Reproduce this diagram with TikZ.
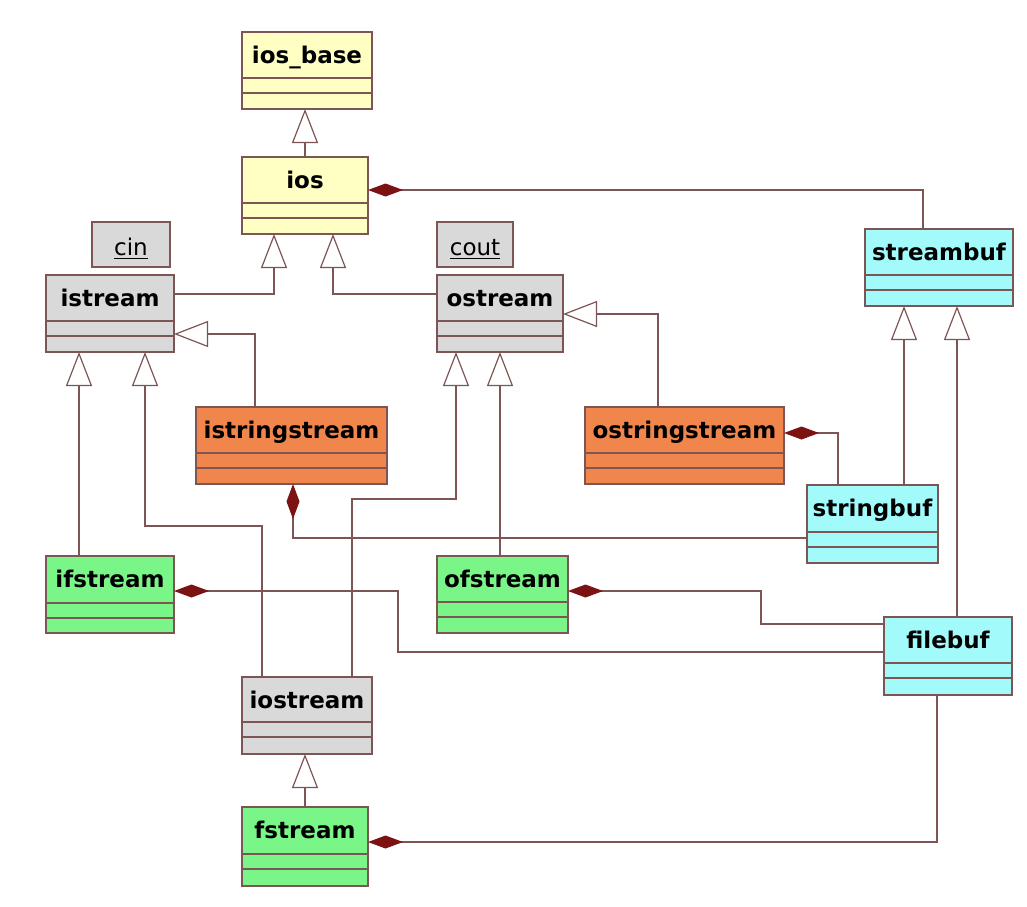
\documentclass[tikz,border=0pt]{standalone}
\usepackage{fontspec}
\setmainfont{DejaVu Sans}
\usetikzlibrary{arrows.meta,fit,calc}
\definecolor{yellowc}{RGB}{255,255,196}
\definecolor{greyc}{RGB}{217,217,217}
\definecolor{orangec}{RGB}{240,134,76}
\definecolor{greenc}{RGB}{122,245,136}
\definecolor{cyanc}{RGB}{162,250,250}
\definecolor{edgec}{RGB}{125,85,85}
\definecolor{diamc}{RGB}{125,18,18}
\tikzset{
  classbox/.style={draw=edgec, line width=0.6pt, inner sep=0pt, outer sep=0pt},
  divider/.style={draw=edgec, line width=0.6pt},
  titletext/.style={font=\fontsize{11.5}{14}\selectfont\bfseries, inner sep=0pt},
  objtext/.style={font=\fontsize{11.5}{14}\selectfont, inner sep=0pt},
  gen/.style={draw=edgec, line width=0.6pt, -{Triangle[length=17pt,width=13pt,fill=white,line width=0.6pt]}},
  comp/.style={draw=edgec, line width=0.6pt, -{Diamond[length=17.5pt,width=6.5pt,fill=diamc,color=diamc]}},
}
\newcommand{\umlclass}[8]{%
  \node[classbox, fill=#7, fit={(#2,#3) (#4,#5)}] (#1) {};
  \draw[divider] (#2,#6) -- (#4,#6);
  \draw[divider] (#2,#6+15) -- (#4,#6+15);
  \node[titletext, anchor=base] (#1-title) at ($(#1.north)+(0,31.5)$) {#8};
}
\begin{document}
\begin{tikzpicture}[x=0.5pt,y=-0.5pt]
\useasboundingbox[fill=white] (0,0) rectangle (1027,906);
% classes
\umlclass{iosbase}{242}{32}{372}{109}{78}{yellowc}{ios\_base}
\umlclass{ios}{242}{157}{368}{234}{203}{yellowc}{ios}
\umlclass{istream}{46}{275}{174}{352}{321}{greyc}{istream}
\umlclass{ostream}{437}{275}{563}{352}{321}{greyc}{ostream}
\umlclass{streambuf}{865}{229}{1013}{306}{275}{cyanc}{streambuf}
\umlclass{istringstream}{196}{407}{387}{484}{453}{orangec}{istringstream}
\umlclass{ostringstream}{585}{407}{784}{484}{453}{orangec}{ostringstream}
\umlclass{stringbuf}{807}{485}{938}{563}{532}{cyanc}{stringbuf}
\umlclass{ifstream}{46}{556}{174}{633}{603}{greenc}{ifstream}
\umlclass{ofstream}{437}{556}{568}{633}{602}{greenc}{ofstream}
\umlclass{filebuf}{884}{617}{1012}{695}{663}{cyanc}{filebuf}
\umlclass{iostream}{242}{677}{372}{754}{722}{greyc}{iostream}
\umlclass{fstream}{242}{807}{368}{886}{854}{greenc}{fstream}
% objects
\node[classbox, fill=greyc, fit={(92,222) (170,267)}] (cin) {};
\node[objtext, anchor=base] (cin-label) at ($(cin.north)+(0,33)$) {\underline{cin}};
\node[classbox, fill=greyc, fit={(437,222) (513,267)}] (cout) {};
\node[objtext, anchor=base] (cout-label) at ($(cout.north)+(0,33)$) {\underline{cout}};
% generalizations
\draw[gen] (ios.north -| 305,0) -- (iosbase.south -| 305,0);
\draw[gen] (istream.east |- 0,294) -| (ios.south -| 274,0);
\draw[gen] (ostream.west |- 0,294) -| (ios.south -| 333,0);
\draw[gen] (istringstream.north -| 255,0) |- (istream.east |- 0,334);
\draw[gen] (ostringstream.north -| 658,0) |- (ostream.east |- 0,314);
\draw[gen] (ifstream.north -| 79,0) -- (istream.south -| 79,0);
\draw[gen] (ofstream.north -| 500,0) -- (ostream.south -| 500,0);
\draw[gen] (iostream.north -| 262,0) -- (262,526) -- (145,526) -- (istream.south -| 145,0);
\draw[gen] (iostream.north -| 352,0) -- (352,499) -- (456,499) -- (ostream.south -| 456,0);
\draw[gen] (fstream.north -| 305,0) -- (iostream.south -| 305,0);
\draw[gen] (stringbuf.north -| 904,0) -- (streambuf.south -| 904,0);
\draw[gen] (filebuf.north -| 957,0) -- (streambuf.south -| 957,0);
% compositions
\draw[comp] (streambuf.north -| 923,0) |- (ios.east |- 0,190);
\draw[comp] (stringbuf.north -| 838,0) |- (ostringstream.east |- 0,433);
\draw[comp] (stringbuf.west |- 0,538) -| (istringstream.south -| 293,0);
\draw[comp] (filebuf.west |- 0,652) -- (398,652) -- (398,591) -- (ifstream.east |- 0,591);
\draw[comp] (filebuf.west |- 0,624) -- (761,624) -- (761,591) -- (ofstream.east |- 0,591);
\draw[comp] (filebuf.south -| 937,0) |- (fstream.east |- 0,842);
\end{tikzpicture}
\end{document}
